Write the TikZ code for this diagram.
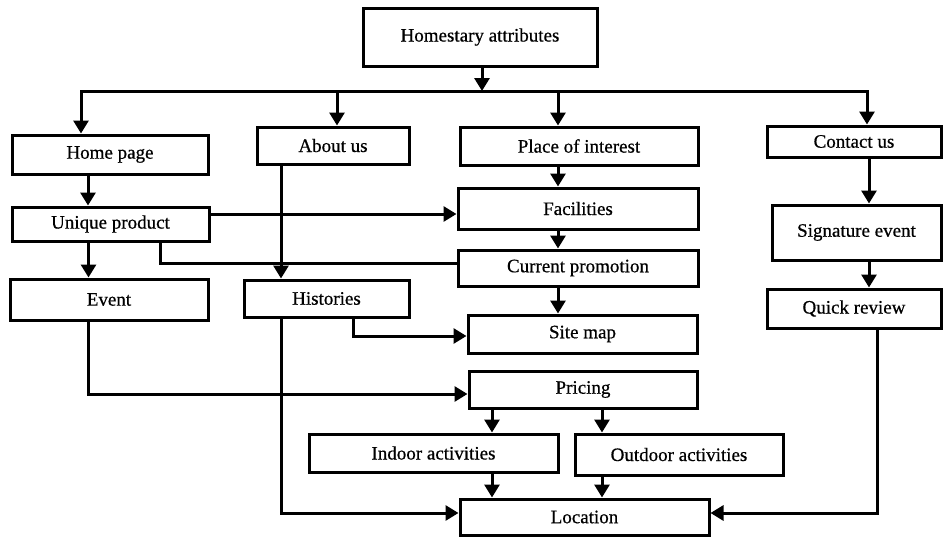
\documentclass[tikz,border=0pt]{standalone}
\usepackage{fontspec}
\setmainfont{Liberation Serif}[FakeBold=0.6]
\usepackage{tikz}
\usetikzlibrary{arrows.meta,positioning}
\usepackage{xcolor}

\begin{document}
\begin{tikzpicture}[x=1pt,y=-1pt,
    block/.style={draw,line width=3pt,inner sep=0pt,font=\fontsize{19}{22}\selectfont},
    link/.style={line width=3pt},
    arr/.style={link,-{Triangle[length=13pt,width=15pt]}}]
      \useasboundingbox (0,0) rectangle (943,538);
      % boxes
      \node[block,minimum width=234pt,minimum height=58pt] (attributes) at (480,37) {Homestary attributes};
      \node[block,minimum width=196pt,minimum height=39pt] (home page) at (110,154.5) {Home page};
      \node[block,minimum width=152pt,minimum height=37pt] (about us) at (333,145.5) {About us};
      \node[block,minimum width=238pt,minimum height=38pt] (place) at (579,146) {Place of interest};
      \node[block,minimum width=174pt,minimum height=31pt] (contact us) at (854,141.5) {Contact us};
      \node[block,minimum width=240pt,minimum height=41pt] (facilities) at (578,208.5) {Facilities};
      \node[block,minimum width=197pt,minimum height=34pt] (unique) at (110.5,224) {Unique product};
      \node[block,minimum width=240pt,minimum height=36pt] (promotion) at (578,268) {Current promotion};
      \node[block,minimum width=169pt,minimum height=55pt] (signature) at (856.5,232.5) {Signature event};
      \node[block,minimum width=198pt,minimum height=41pt] (event) at (109,299.5) {Event};
      \node[block,minimum width=165pt,minimum height=37pt] (histories) at (326.5,298.5) {Histories};
      \node[block,minimum width=229pt,minimum height=38pt] (site map) at (582.5,334) {Site map};
      \node[block,minimum width=174pt,minimum height=39pt] (review) at (854,308.5) {Quick review};
      \node[block,minimum width=228pt,minimum height=37pt] (pricing) at (583,389.5) {Pricing};
      \node[block,minimum width=249pt,minimum height=38pt] (indoor) at (433.5,453) {Indoor activities};
      \node[block,minimum width=208pt,minimum height=41pt] (outdoor) at (679,454.5) {Outdoor activities};
      \node[block,minimum width=249pt,minimum height=36pt] (location) at (584.5,517) {Location};
      % top level
      \coordinate (bus) at (482,91);
      \draw[arr] ([xshift=2pt]attributes.south) -- (bus);
      \draw[arr] (bus) -| ([xshift=-29pt]home page.north);
      \draw[arr] (bus) -| ([xshift=4pt]about us.north);
      \draw[arr] (bus) -| ([xshift=-21pt]place.north);
      \draw[arr] (bus) -| ([xshift=13pt]contact us.north);
      % left column
      \draw[arr] ([xshift=-22pt]home page.south) -- ([xshift=-22pt]home page.south |- unique.north);
      \draw[arr] ([yshift=10pt]unique.east) -- ([yshift=10pt]unique.east -| facilities.west);
      \draw[link] ([xshift=50pt]unique.south) |- ([yshift=5pt]promotion.west);
      \draw[arr] ([xshift=-22pt]unique.south) -- ([xshift=-22pt]unique.south |- event.north);
      \draw[arr] ([xshift=-21pt]event.south) |- ([yshift=-4.5pt]pricing.west);
      % about us
      \draw[arr] ([xshift=-52pt]about us.south) -- ([xshift=-52pt]about us.south |- histories.north);
      \draw[arr] ([xshift=27pt]histories.south) |- ([yshift=-2pt]site map.west);
      \draw[arr] ([xshift=-45.5pt]histories.south) |- ([yshift=4pt]location.west);
      % middle column
      \draw[arr] ([xshift=-21pt]place.south) -- ([xshift=-20pt]facilities.north);
      \draw[arr] ([xshift=-20pt]facilities.south) -- ([xshift=-20pt]promotion.north);
      \draw[arr] ([xshift=-20pt]promotion.south) -- ([xshift=-24.5pt]site map.north);
      \draw[arr] ([xshift=-91pt]pricing.south) -- ([xshift=-91pt]pricing.south |- indoor.north);
      \draw[arr] ([xshift=19pt]pricing.south) -- ([xshift=19pt]pricing.south |- outdoor.north);
      \draw[arr] ([xshift=58.5pt]indoor.south) -- ([xshift=58.5pt]indoor.south |- location.north);
      \draw[arr] ([xshift=-77pt]outdoor.south) -- ([xshift=-77pt]outdoor.south |- location.north);
      % right column
      \draw[arr] ([xshift=15pt]contact us.south) -- ([xshift=12.5pt]signature.north);
      \draw[arr] ([xshift=12.5pt]signature.south) -- ([xshift=15pt]review.north);
      \draw[arr] ([xshift=23pt]review.south) |- ([yshift=4pt]location.east);
    \end{tikzpicture}
\end{document}
